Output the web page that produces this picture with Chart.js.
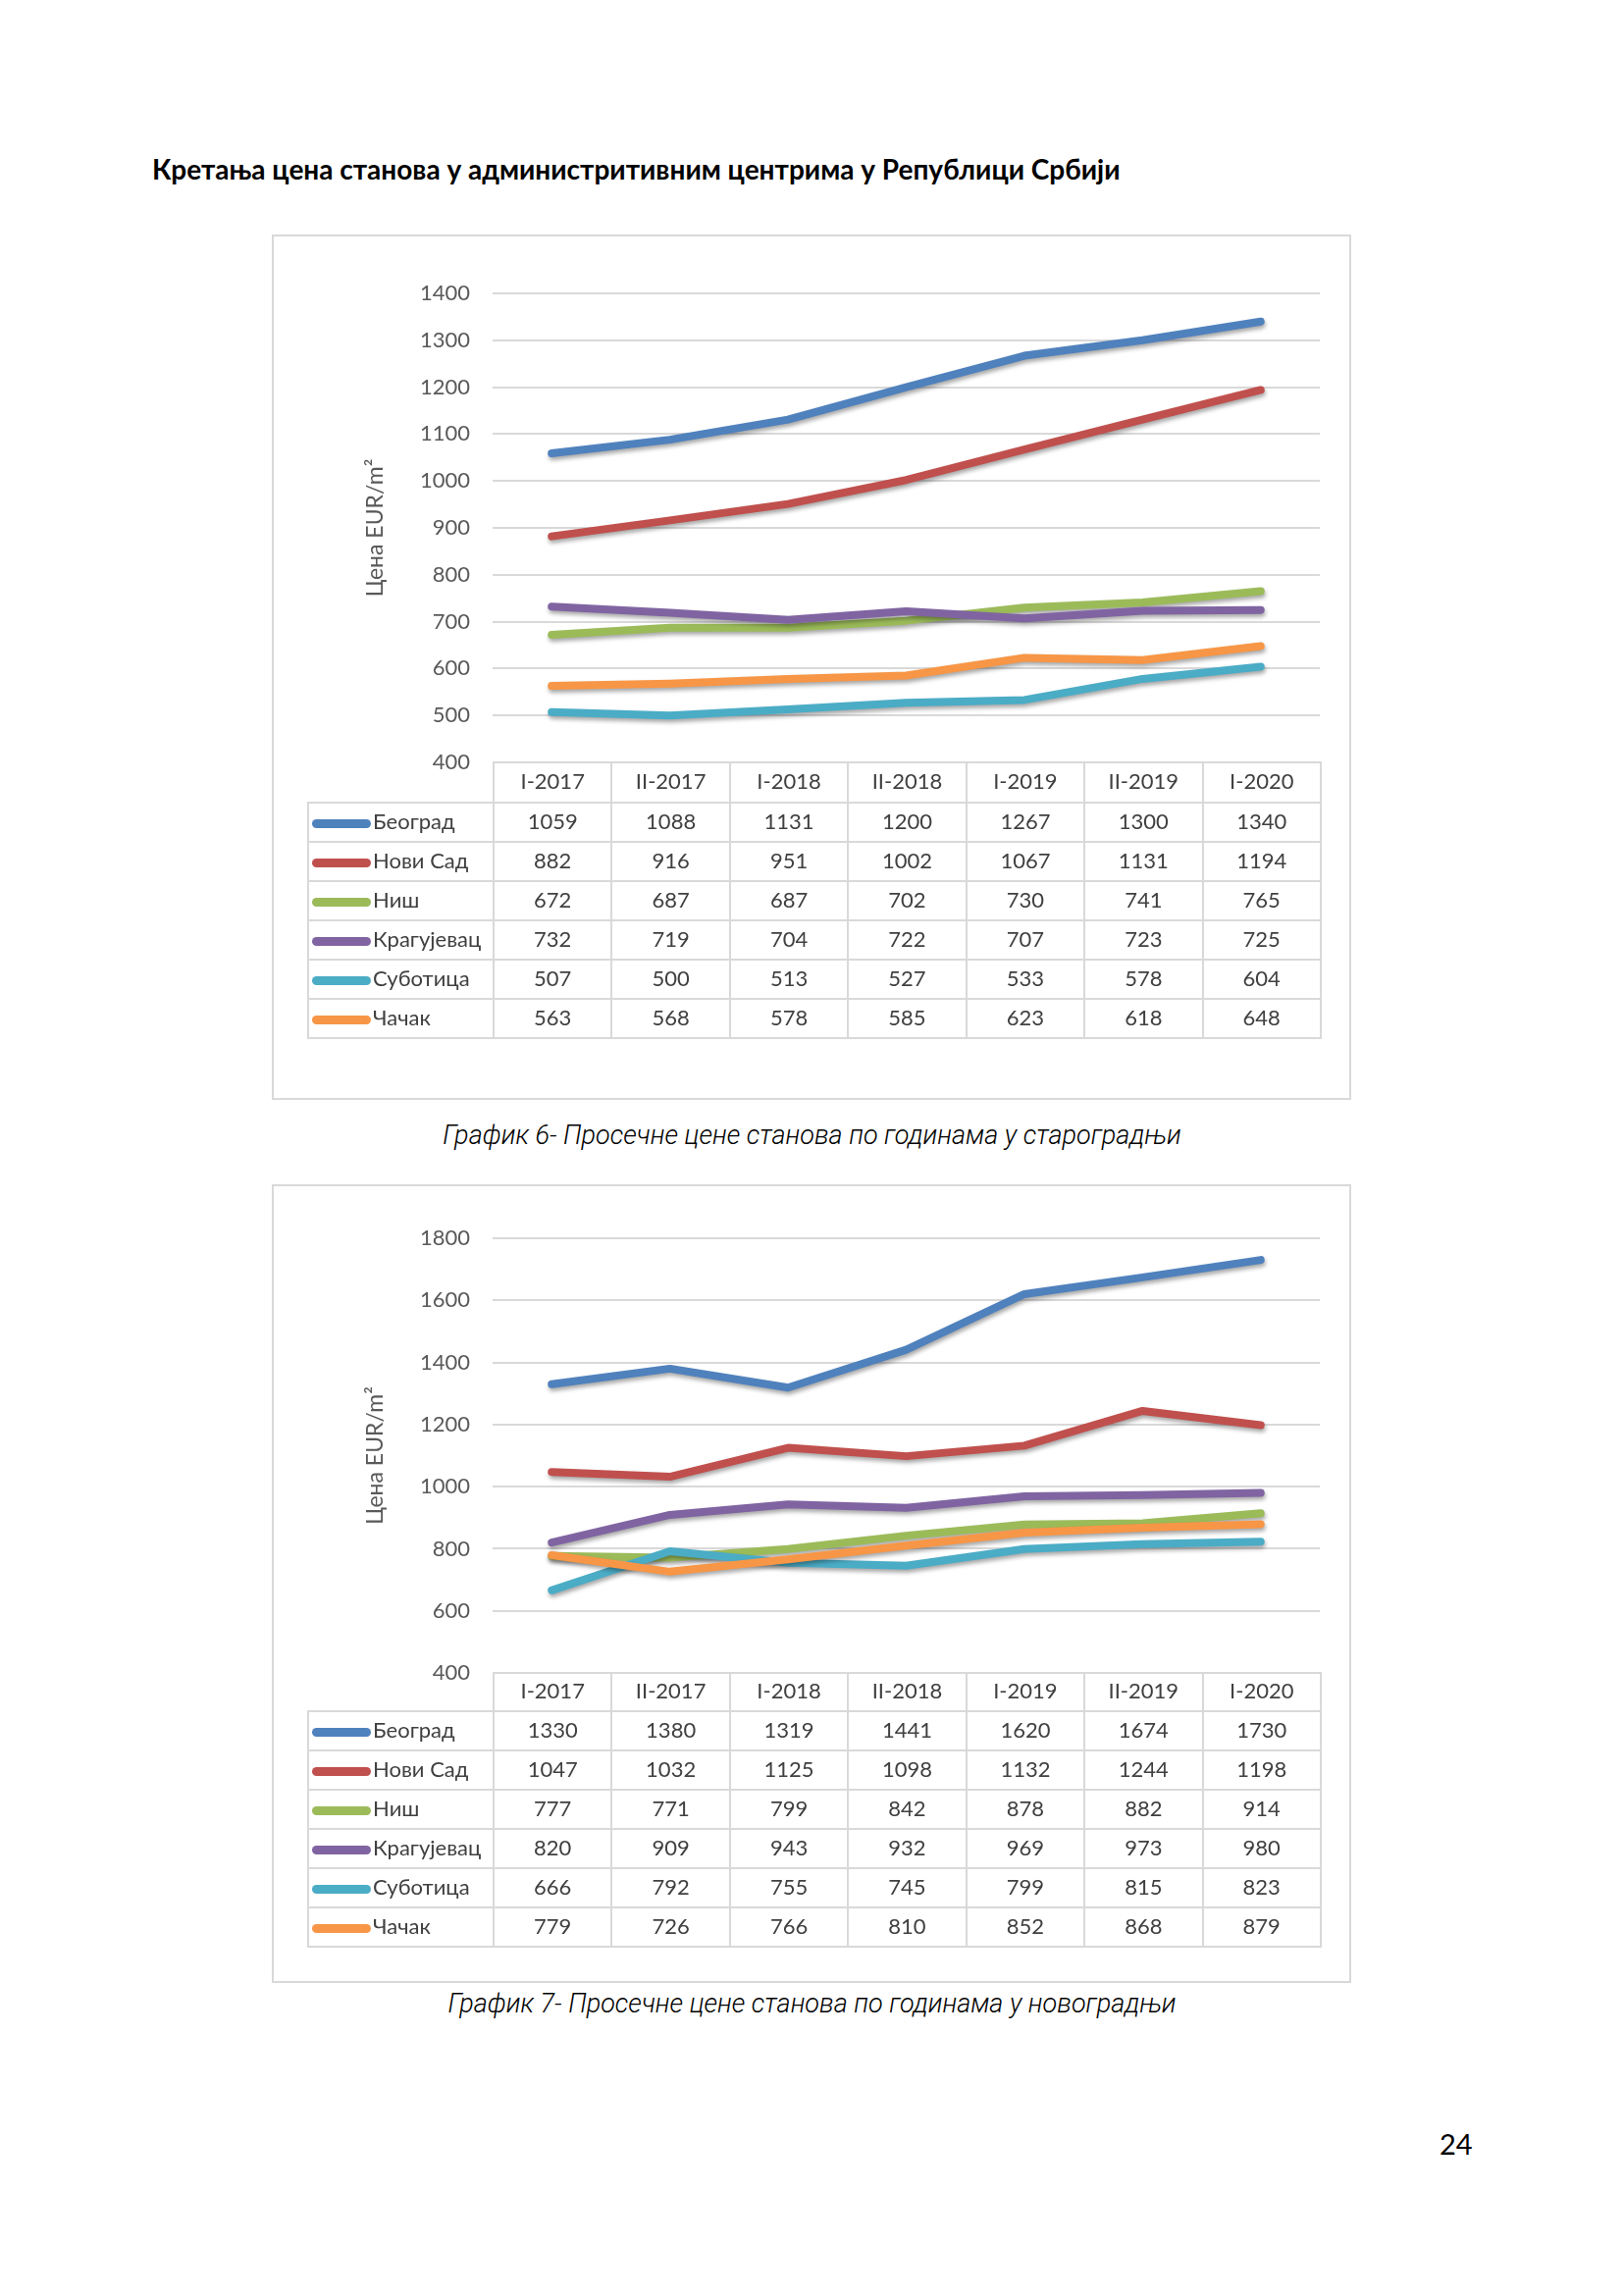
<!DOCTYPE html>
<html lang="sr">
<head>
<meta charset="utf-8">
<script src="https://cdn.jsdelivr.net/npm/chart.js@4.4.1/dist/chart.umd.min.js"></script>
<style>
  body { margin: 0; width: 1655px; height: 2339px; background: #fff; position: relative; font-family: Lato, "Noto Sans", sans-serif; }
  #title { position: absolute; left: 155px; top: 158px; font-weight: 700; font-size: 28px; line-height: 1; color: #000; white-space: nowrap; }
  .frame { position: absolute; left: 277px; width: 1100px; box-sizing: border-box; border: 2px solid #d9d9d9; }
  .wrap { position: absolute; left: 277px; width: 1100px; }
  .caption { position: absolute; left: 0; width: 1655px; text-align: center; font-family: Roboto, sans-serif; font-style: italic; font-weight: 300; font-size: 27px; line-height: 1; color: #000; }
  .tbl { position: absolute; left: 313px; border-collapse: collapse; table-layout: fixed; font-size: 22px; color: #404040; }
  .tbl td { border: 2px solid #d9d9d9; text-align: center; padding: 0 0 4px 0; white-space: nowrap; }
  .tbl td.blank { border-top: none; border-left: none; }
  .tbl td.name { text-align: left; padding-left: 3px; }
  .mark { display: inline-block; width: 60px; height: 9px; border-radius: 5px; vertical-align: middle; margin-right: 2px; position: relative; top: 1px; }
  #page { position: absolute; left: 1467px; top: 2170px; font-size: 29px; line-height: 1; color: #000; }
</style>
</head>
<body>
<div id="title">Кретања цена станова у администритивним центрима у Републици Србији</div>

<div class="frame" style="top:239px;height:882px;"></div>
<div class="wrap" style="top:239px;height:560px;"><canvas id="chartOld"></canvas></div>
<table class="tbl" id="tableOld" style="top:776px;"></table>
<div class="caption" style="top:1144px;">График 6- Просечне цене станова по годинама у староградњи</div>

<div class="frame" style="top:1207px;height:814px;"></div>
<div class="wrap" style="top:1207px;height:520px;"><canvas id="chartNew"></canvas></div>
<table class="tbl" id="tableNew" style="top:1704px;"></table>
<div class="caption" style="top:2029px;">График 7- Просечне цене станова по годинама у новоградњи</div>

<div id="page">24</div>

<script>
var periods = ["I-2017", "II-2017", "I-2018", "II-2018", "I-2019", "II-2019", "I-2020"];
var cities = ["Београд", "Нови Сад", "Ниш", "Крагујевац", "Суботица", "Чачак"];

// староградња
var beogradOld = [1059, 1088, 1131, 1200, 1267, 1300, 1340];
var noviSadOld = [882, 916, 951, 1002, 1067, 1131, 1194];
var nisOld = [672, 687, 687, 702, 730, 741, 765];
var kragujevacOld = [732, 719, 704, 722, 707, 723, 725];
var suboticaOld = [507, 500, 513, 527, 533, 578, 604];
var cacakOld = [563, 568, 578, 585, 623, 618, 648];

// новоградња
var beogradNew = [1330, 1380, 1319, 1441, 1620, 1674, 1730];
var noviSadNew = [1047, 1032, 1125, 1098, 1132, 1244, 1198];
var nisNew = [777, 771, 799, 842, 878, 882, 914];
var kragujevacNew = [820, 909, 943, 932, 969, 973, 980];
var suboticaNew = [666, 792, 755, 745, 799, 815, 823];
var cacakNew = [779, 726, 766, 810, 852, 868, 879];

var oldTicks = [400, 1400, 100];
var newTicks = [400, 1800, 200];

var colors = ['#4F81BD', '#C0504D', '#9BBB59', '#8064A2', '#4BACC6', '#F79646'];

Chart.defaults.font.family = 'Lato, "Noto Sans", sans-serif';
Chart.defaults.color = '#595959';

// soft drop shadow under the lines, like the Excel original
var shadowPlugin = {
  id: 'lineShadow',
  beforeDatasetsDraw: function (chart) {
    var ctx = chart.ctx;
    ctx.save();
    ctx.shadowColor = 'rgba(0,0,0,0.35)';
    ctx.shadowBlur = 4;
    ctx.shadowOffsetX = 1;
    ctx.shadowOffsetY = 3;
  },
  afterDatasetsDraw: function (chart) {
    chart.ctx.restore();
  }
};

// data table under the plot, columns taken from the x scale
function buildTable(chart, table, headerH, rowH) {
  var area = chart.chartArea;
  var wrapLeft = chart.canvas.parentNode.offsetLeft;
  var colW = (area.right - area.left) / periods.length;
  var nameW = wrapLeft + area.left - 313;
  var html = '<colgroup><col style="width:' + nameW + 'px">';
  for (var i = 0; i < periods.length; i++) html += '<col style="width:' + colW + 'px">';
  html += '</colgroup><tr style="height:' + headerH + 'px"><td class="blank"></td>';
  chart.scales.x.getLabels().forEach(function (p) { html += '<td>' + p + '</td>'; });
  html += '</tr>';
  chart.data.datasets.forEach(function (ds) {
    html += '<tr style="height:' + rowH + 'px"><td class="name"><span class="mark" style="background:' +
      ds.borderColor + '"></span>' + ds.label + '</td>';
    ds.data.forEach(function (v) { html += '<td>' + v + '</td>'; });
    html += '</tr>';
  });
  table.style.width = (nameW + colW * periods.length) + 'px';
  table.innerHTML = html;
}

function makeChart(id, series, ticks, areaTop, areaBottom, tableId, headerH, rowH) {
  var datasets = series.map(function (d, i) {
    return {
      label: cities[i],
      data: d,
      borderColor: colors[i],
      backgroundColor: colors[i],
      borderWidth: 8,
      borderCapStyle: 'round',
      borderJoinStyle: 'round',
      pointRadius: 0,
      tension: 0,
      order: series.length - i
    };
  });
  var chart = new Chart(document.getElementById(id), {
    type: 'line',
    data: { labels: periods, datasets: datasets },
    options: {
      responsive: true,
      maintainAspectRatio: false,
      animation: false,
      layout: { padding: { top: areaTop, bottom: 20, right: 32, left: 92 } },
      plugins: { legend: { display: false }, tooltip: { enabled: false } },
      scales: {
        x: { display: false, offset: true },
        y: {
          min: ticks[0],
          max: ticks[1],
          ticks: {
            stepSize: ticks[2], padding: 23, font: { size: 22 }, color: '#595959',
            callback: function (v) { return String(v); }
          },
          grid: { color: '#d9d9d9', lineWidth: 2, drawTicks: false },
          border: { display: false },
          title: { display: true, text: 'Цена EUR/m²', font: { size: 23 }, color: '#595959', padding: { top: 0, bottom: 0 } },
          afterFit: function (scale) { scale.width = 225 - 92; }
        }
      }
    },
    plugins: [shadowPlugin]
  });
  // the y labels reserve room under the plot, so grow the canvas until the 400 line sits on the table
  var wrap = chart.canvas.parentNode;
  wrap.style.height = (wrap.offsetHeight + areaBottom - chart.chartArea.bottom) + 'px';
  chart.resize();
  buildTable(chart, document.getElementById(tableId), headerH, rowH);
  return chart;
}

makeChart('chartOld', [beogradOld, noviSadOld, nisOld, kragujevacOld, suboticaOld, cacakOld], oldTicks, 60, 538, 'tableOld', 41, 40);
makeChart('chartNew', [beogradNew, noviSadNew, nisNew, kragujevacNew, suboticaNew, cacakNew], newTicks, 55, 498, 'tableNew', 39, 40);
</script>
</body>
</html>
